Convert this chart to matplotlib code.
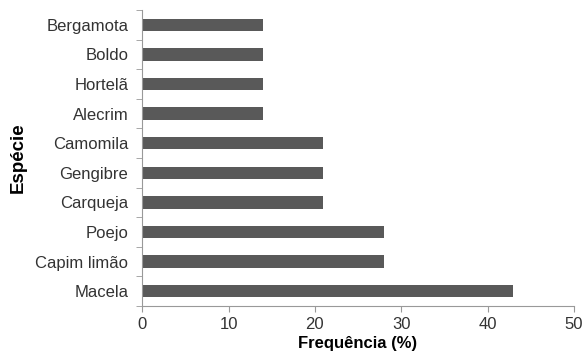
import numpy as np
import matplotlib.pyplot as plt

especies = ["Macela", "Capim limão", "Poejo", "Carqueja", "Gengibre",
            "Camomila", "Alecrim", "Hortelã", "Boldo", "Bergamota"]
frequencia = [43, 28, 28, 21, 21, 21, 14, 14, 14, 14]

plt.rcParams['font.family'] = ['Liberation Sans', 'DejaVu Sans']

fig = plt.figure(figsize=(5.85, 3.62), dpi=100)
ax = fig.add_axes([0.243, 0.155, 0.738, 0.817])

y = np.arange(len(especies))
ax.barh(y, frequencia, height=0.42, color='#595959')

ax.set_xlim(0, 50)
ax.set_ylim(-0.5, len(especies) - 0.5)
ax.set_xticks([0, 10, 20, 30, 40, 50])
ax.set_yticks(y)
ax.set_yticklabels(especies)
# tick marks between categories
ax.set_yticks(np.arange(-0.5, len(especies), 1), minor=True)
ax.tick_params(axis='y', which='major', length=0, pad=10, labelsize=12, labelcolor='#333333')
ax.tick_params(axis='y', which='minor', length=4, color='#999999')
ax.tick_params(axis='x', length=4, color='#999999', labelsize=12, labelcolor='#333333', pad=4)

for s in ['top', 'right']:
    ax.spines[s].set_visible(False)
for s in ['left', 'bottom']:
    ax.spines[s].set_color('#999999')

ax.set_xlabel('Frequência (%)', fontsize=12, fontweight='bold', labelpad=3)
ax.set_ylabel('Espécie', fontsize=13.5, fontweight='bold')
ax.yaxis.set_label_coords(-0.268, 0.5)

fig.savefig("out.png", dpi=100)
